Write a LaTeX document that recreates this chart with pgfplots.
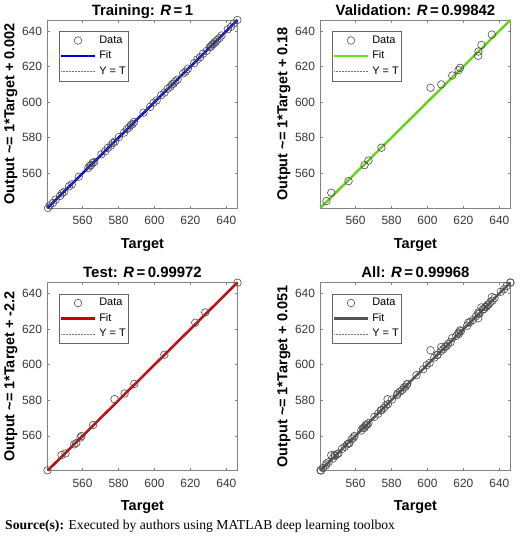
\documentclass[border=0pt]{standalone}
\usepackage{fontspec}
\setmainfont{Liberation Sans}
\newfontfamily\srcfont{Liberation Serif}
\usepackage{pgfplots}
\usepackage{pgfplotstable}
\pgfplotsset{compat=1.18}

\definecolor{fitblue}{RGB}{0,0,225}
\definecolor{fitgreen}{RGB}{105,225,25}
\definecolor{fitred}{RGB}{200,0,0}
\definecolor{fitgray}{RGB}{85,85,85}
\definecolor{boxgray}{RGB}{130,130,130}
\definecolor{ticktext}{RGB}{55,55,55}

% Training targets / outputs
\pgfplotstableread{
t y
540.8 540.5
541.8 541.9
543.5 543.3
545.0 545.2
547.5 547.3
548.6 548.8
549.8 549.6
552.5 552.7
554.0 553.8
557.9 558.1
563.2 563.0
564.0 564.3
564.8 564.6
565.6 565.9
566.5 566.3
570.5 570.7
572.6 572.4
574.0 574.3
575.8 575.6
576.9 577.1
578.0 577.8
580.2 580.4
583.1 582.9
584.7 584.9
586.0 585.8
586.9 587.2
587.8 587.6
588.6 588.9
593.9 594.1
597.6 597.4
599.5 599.7
601.2 601.0
603.8 604.0
605.6 605.4
607.4 607.6
608.9 608.7
609.8 610.1
610.6 610.4
611.5 611.7
612.9 612.7
616.0 616.2
617.4 617.2
618.6 618.8
622.1 621.9
623.8 624.0
625.4 625.2
627.0 627.2
629.0 628.8
630.8 631.0
631.5 631.3
632.1 632.4
632.8 632.6
633.4 633.6
634.0 633.8
634.9 635.1
636.2 636.0
637.3 637.5
640.8 641.0
642.6 642.4
644.0 644.2
646.1 646.2
}\trainset

% Validation targets / outputs
\pgfplotstableread{
t y
543.8 544.4
546.5 549.1
556.1 555.6
565.0 564.6
567.2 567.2
574.4 574.4
601.7 608.1
607.7 610.0
613.8 615.0
617.3 618.0
618.1 619.3
628.2 626.1
628.4 628.5
630.0 632.2
635.8 638.0
}\valset

% Test targets / outputs
\pgfplotstableread{
t y
540.5 540.6
548.3 549.2
550.5 550.1
555.4 555.2
556.5 555.9
558.9 559.1
559.4 559.9
565.9 566.1
577.8 580.6
583.4 583.8
588.8 589.2
605.5 605.6
622.7 623.6
628.3 629.4
646.2 646.1
}\testset

\pgfplotsset{
  dataimg/.style={legend image code/.code={%
      \path[draw=none] (0bp,0bp) -- (34bp,0bp);
      \path[##1, draw=none] plot[only marks, mark=o,
        mark options={draw=black!70, line width=0.6bp, fill=none}] coordinates {(17bp,0bp)};}},
  lineimg/.style={legend image code/.code={%
      \draw[##1] (0bp,0bp) -- (34bp,0bp);}},
  datamarks/.style={only marks, mark=o, mark size=3.8bp, color=black!70,
      mark options={line width=0.6bp, draw=black!70, fill=none}, dataimg},
  ident/.style={black!55, line width=0.5bp, dash pattern=on 0.6bp off 0.9bp, lineimg},
  reg/.style={
    scale only axis, width=190bp, height=188bp,
    xmin=540.5, xmax=646.2, ymin=540.5, ymax=646.2,
    xtick={560,580,600,620,640}, ytick={560,580,600,620,640},
    tick align=inside, major tick length=2.5bp,
    clip=false,
    axis line style={boxgray, line width=0.6bp},
    every tick/.style={boxgray, line width=0.6bp},
    /pgf/number format/assume math mode=true,
    tick label style={font=\fontsize{12}{14}\selectfont, text=ticktext},
    xticklabel style={yshift=-5bp},
    yticklabel style={xshift=-2bp},
    xlabel=Target,
    xlabel style={font=\bfseries\fontsize{14.5}{16}\selectfont,
      at={(axis description cs:0.5,0)}, anchor=base, yshift=-40bp},
    ylabel style={font=\bfseries\fontsize{14.5}{16}\selectfont,
      at={(axis description cs:-0.1737,0.5)}, anchor=base},
    every axis title/.style={font=\bfseries\fontsize{15}{17}\selectfont,
      at={(axis description cs:0.5,1)}, anchor=base, yshift=5bp},
    legend cell align=left,
    legend style={at={(0,1)}, anchor=north west, xshift=11bp, yshift=-11bp,
      draw=black!60, line width=0.5bp, inner xsep=1bp, inner ysep=2.5bp,
      font=\fontsize{11}{13}\selectfont, row sep=2bp, column sep=1bp,
      nodes={inner ysep=1.5bp, inner xsep=2bp, text height=8bp, text depth=2.5bp}},
  },
}

\begin{document}
\begin{tikzpicture}
\useasboundingbox (0bp,0bp) rectangle (520bp,-541bp);

% Training
\begin{axis}[reg, at={(47.5bp,-20bp)}, anchor=north west,
  title={Training: \textit{R}\,=\,1},
  ylabel={Output \textasciitilde= 1*Target + 0.002}]
  \addplot[datamarks] table[x=t,y=y] {\trainset};
  \addplot[fitblue, line width=2.5bp, lineimg] coordinates {(540.5,540.502) (646.2,646.202)};
  \addplot[ident] coordinates {(540.5,540.5) (646.2,646.2)};
  \legend{Data, Fit, Y = T}
\end{axis}

% Validation
\begin{axis}[reg, at={(320.5bp,-20bp)}, anchor=north west,
  title={Validation: \textit{R}\,=\,0.99842},
  ylabel={Output \textasciitilde= 1*Target + 0.18}]
  \addplot[datamarks] table[x=t,y=y] {\valset};
  \addplot[fitgreen, line width=2.5bp, lineimg] coordinates {(540.5,540.6) (646.1,646.2)};
  \addplot[ident] coordinates {(540.5,540.5) (646.2,646.2)};
  \legend{Data, Fit, Y = T}
\end{axis}

% Test
\begin{axis}[reg, at={(47.5bp,-282.5bp)}, anchor=north west,
  title={Test: \textit{R}\,=\,0.99972},
  ylabel={Output \textasciitilde= 1*Target + -2.2}]
  \addplot[datamarks] table[x=t,y=y] {\testset};
  \addplot[fitred, line width=2.5bp, lineimg] coordinates {(540.6,540.5) (646.2,646.2)};
  \addplot[ident] coordinates {(540.5,540.5) (646.2,646.2)};
  \legend{Data, Fit, Y = T}
\end{axis}

% All
\begin{axis}[reg, at={(320.5bp,-282.5bp)}, anchor=north west,
  title={All: \textit{R}\,=\,0.99968},
  ylabel={Output \textasciitilde= 1*Target + 0.051}]
  \addplot[datamarks] table[x=t,y=y] {\trainset};
  \addplot[datamarks, forget plot] table[x=t,y=y] {\valset};
  \addplot[datamarks, forget plot] table[x=t,y=y] {\testset};
  \addplot[fitgray, line width=2.5bp, lineimg] coordinates {(540.5,540.55) (646.2,646.2)};
  \addplot[ident] coordinates {(540.5,540.5) (646.2,646.2)};
  \legend{Data, Fit, Y = T}
\end{axis}

\node[anchor=base west, inner sep=0pt, font=\srcfont\fontsize{13.7}{16}\selectfont]
  at (5bp,-529bp) {\textbf{Source(s):} Executed by authors using MATLAB deep learning toolbox};
\end{tikzpicture}
\end{document}
